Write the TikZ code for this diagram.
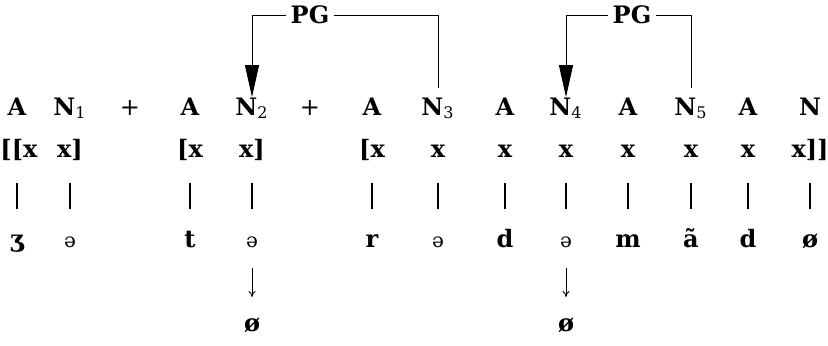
\documentclass[tikz,border=0pt]{standalone}
\usepackage{fontspec}
\setmainfont{DejaVu Serif}
\usetikzlibrary{arrows.meta}

\begin{document}
\begin{tikzpicture}[x=0.5pt, y=0.5pt, font=\fontsize{12}{14}\selectfont,
    cat/.style={anchor=base, inner sep=0pt, font=\fontsize{12}{14}\selectfont\bfseries},
    slot/.style={anchor=base, inner sep=0pt, font=\fontsize{12}{14}\selectfont\bfseries},
    seg/.style={anchor=base, inner sep=0pt, font=\fontsize{12}{14}\selectfont\bfseries},
    schwa/.style={anchor=base, inner sep=0pt, font=\fontsize{10}{12}\selectfont},
    pipe/.style={line width=1pt, shorten <=13pt, shorten >=19pt},
    drop/.style={line width=0.4pt, -{To[length=3pt,width=3.5pt]}, shorten <=10.5pt, shorten >=17pt},
    pgline/.style={line width=0.5pt},
    pgarrow/.style={pgline, -{Triangle[length=16pt,width=7pt]}},
    pglabel/.style={inner xsep=2pt, inner ysep=0pt, font=\fontsize{12}{14}\selectfont\bfseries}]
    \useasboundingbox (0,0) rectangle (828,345);

    % Category row
    \node[cat] (c1) at (17,230) {A};
    \node[cat] (c2) at (70,230) {N\textsubscript{\mdseries 1}};
    \node[cat] (c3) at (130,230) {\mdseries +};
    \node[cat] (c4) at (190,230) {A};
    \node[cat] (c5) at (252,230) {N\textsubscript{\mdseries 2}};
    \node[cat] (c6) at (310,230) {\mdseries +};
    \node[cat] (c7) at (372,230) {A};
    \node[cat] (c8) at (438,230) {N\textsubscript{\mdseries 3}};
    \node[cat] (c9) at (505,230) {A};
    \node[cat] (c10) at (566,230) {N\textsubscript{\mdseries 4}};
    \node[cat] (c11) at (628,230) {A};
    \node[cat] (c12) at (691,230) {N\textsubscript{\mdseries 5}};
    \node[cat] (c13) at (748,230) {A};
    \node[cat] (c14) at (810,230) {N};

    % Skeleton slots
    \node[slot] (x1) at (19,188) {[[x};
    \node[slot] (x2) at (70,188) {x]};
    \node[slot] (x4) at (190,188) {[x};
    \node[slot] (x5) at (252,188) {x]};
    \node[slot] (x7) at (372,188) {[x};
    \node[slot] (x8) at (438,188) {x};
    \node[slot] (x9) at (505,188) {x};
    \node[slot] (x10) at (566,188) {x};
    \node[slot] (x11) at (628,188) {x};
    \node[slot] (x12) at (691,188) {x};
    \node[slot] (x13) at (748,188) {x};
    \node[slot] (x14) at (810,188) {x]]};

    % Segments
    \node[seg] (s1) at (17,98) {ʒ};
    \node[schwa] (s2) at (70,98) {ə};
    \node[seg] (s4) at (190,98) {t};
    \node[schwa] (s5) at (252,98) {ə};
    \node[seg] (s7) at (372,98) {r};
    \node[schwa] (s8) at (438,98) {ə};
    \node[seg] (s9) at (505,98) {d};
    \node[schwa] (s10) at (566,98) {ə};
    \node[seg] (s11) at (628,98) {m};
    \node[seg] (s12) at (691,98) {ã};
    \node[seg] (s13) at (748,98) {d};
    \node[seg] (s14) at (810,98) {ø};

    % Association lines
    \draw[pipe] (c1.base |- x1.base) -- (s1.base);
    \draw[pipe] (x2.base) -- (s2.base);
    \draw[pipe] (x4.base) -- (s4.base);
    \draw[pipe] (x5.base) -- (s5.base);
    \draw[pipe] (x7.base) -- (s7.base);
    \draw[pipe] (x8.base) -- (s8.base);
    \draw[pipe] (x9.base) -- (s9.base);
    \draw[pipe] (x10.base) -- (s10.base);
    \draw[pipe] (x11.base) -- (s11.base);
    \draw[pipe] (x12.base) -- (s12.base);
    \draw[pipe] (x13.base) -- (s13.base);
    \draw[pipe] (x14.base) -- (s14.base);

    % Deletion
    \node[seg] (z5) at (252,14) {ø};
    \node[seg] (z10) at (566,14) {ø};
    \draw[drop] (s5.base) -- (z5.base);
    \draw[drop] (s10.base) -- (z10.base);

    % PG links
    \node[pglabel] (pg1) at (310,330) {PG};
    \draw[pgarrow] (pg1.west) -| (c5.north);
    \draw[pgline, shorten >=4.5pt] (pg1.east) -| (c8.north);
    \node[pglabel] (pg2) at (632,330) {PG};
    \draw[pgarrow] (pg2.west) -| (c10.north);
    \draw[pgline, shorten >=4.5pt] (pg2.east) -| (c12.north);

\end{tikzpicture}
\end{document}
